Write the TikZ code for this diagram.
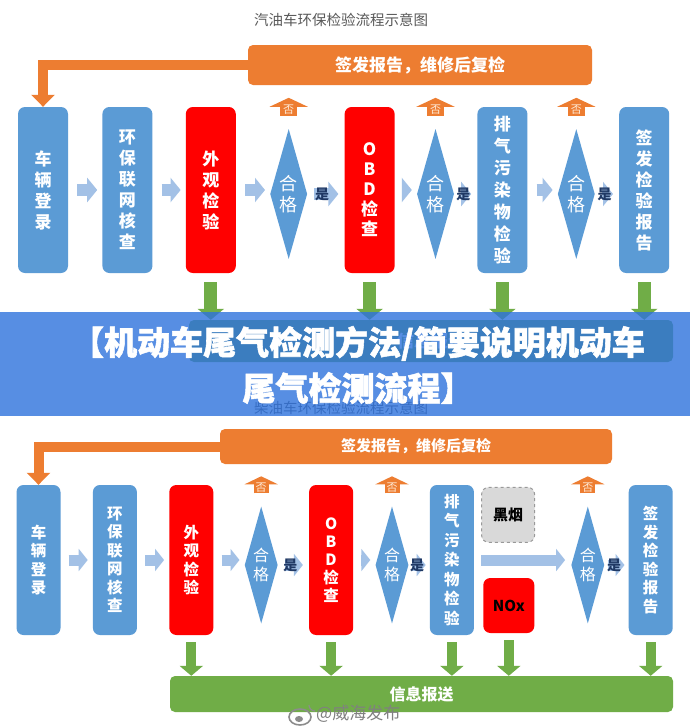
\documentclass[tikz,border=0pt]{standalone}
\usepackage{fontspec}
\setmainfont{Noto Sans CJK SC}
\newfontfamily\heavyfont{Noto Sans CJK SC}[BoldFeatures={FakeBold=1.6}]
\usetikzlibrary{shapes.geometric,arrows.meta,positioning}

\definecolor{offblue}{RGB}{91,155,213}
\definecolor{offorange}{RGB}{237,125,49}
\definecolor{offgreen}{RGB}{112,173,71}
\definecolor{flowblue}{RGB}{163,193,230}
\definecolor{bannerblue}{RGB}{46,114,221}
\definecolor{yesnavy}{RGB}{31,56,100}
\definecolor{smokegray}{RGB}{217,217,217}

\begin{document}
\begin{tikzpicture}[
    x=1pt, y=-1pt,
    every node/.style={inner sep=0pt},
    stage/.style={
        rectangle, rounded corners=7pt, fill=offblue,
        text=white, align=center,
        font=\bfseries\fontsize{17}{21}\selectfont,
        minimum width=50pt, minimum height=166pt
    },
    stagesm/.style={stage, minimum width=44pt, minimum height=150pt,
        font=\bfseries\fontsize{15.5}{18.5}\selectfont},
    judge/.style={
        diamond, fill=offblue, text=white, align=center,
        font=\fontsize{18}{21}\selectfont, shape aspect=0.285,
        minimum width=37pt, minimum height=130pt
    },
    judgesm/.style={judge, minimum width=33pt, minimum height=117pt,
        font=\fontsize{16}{19}\selectfont},
    bar/.style={
        rectangle, rounded corners=5pt, text=white,
        font=\bfseries\fontsize{17}{20}\selectfont
    },
    title/.style={text=black!65, font=\fontsize{14.5}{16}\selectfont},
    flow/.style={flowblue, line width=12pt,
        -{Triangle[length=10pt,width=24pt]}, shorten <=9pt, shorten >=5pt},
    flowsm/.style={flow, line width=11pt,
        -{Triangle[length=9pt,width=22pt]}, shorten <=8pt, shorten >=5pt},
    yes/.style={flow, shorten <=7pt, shorten >=6pt},
    yestext/.style={text=yesnavy, font=\bfseries\fontsize{14}{16}\selectfont},
    reject/.style={offorange, line width=17pt,
        -{Triangle[length=9pt,width=38pt]}, shorten <=13pt},
    rejecttext/.style={text=orange!15, font=\fontsize{11}{12}\selectfont},
    report/.style={offgreen, line width=13pt,
        -{Triangle[length=11pt,width=26pt]}, shorten <=9pt},
    ret/.style={offorange, line width=10pt, line join=miter,
        -{Triangle[length=12pt,width=23pt]}}
]
    \useasboundingbox (0,0) rectangle (690,728);
    \fill[white] (0,0) rectangle (690,728);

    % petrol car
    \node[title] (tpetrol) at (341,20) {汽油车环保检验流程示意图};
    \node[bar, fill=offorange, minimum width=344pt, minimum height=40pt] (fix) at (420,65) {签发报告，维修后复检};

    \node[stage] (reg) at (43,190) {车\\辆\\登\\录};
    \node[stage, right=34pt of reg] (net) {环\\保\\联\\网\\核\\查};
    \node[stage, fill=red, right=33pt of net] (look) {外\\观\\检\\验};
    \node[judge, right=34pt of look, yshift=-4pt] (ok1) {合\\格};
    \node[stage, fill=red, right=37pt of ok1, yshift=4pt,
          font=\bfseries\fontsize{17}{20}\selectfont] (obd) {O\\B\\D\\检\\查};
    \node[judge, right=22pt of obd, yshift=-4pt] (ok2) {合\\格};
    \node[stage, right=23pt of ok2, yshift=4pt,
          font=\bfseries\fontsize{17}{22}\selectfont] (exh) {排\\气\\污\\染\\物\\检\\验};
    \node[judge, right=30pt of exh, yshift=-4pt] (ok3) {合\\格};
    \node[stage, right=24pt of ok3, yshift=4pt] (iss) {签\\发\\检\\验\\报\\告};

    \node[bar, fill=offgreen, minimum width=484pt, minimum height=42pt] (info) at (431,341) {信息报送};

    \draw[ret] (fix.west) -| (reg.north);
    \draw[flow] (reg.east) -- (net.west);
    \draw[flow] (net.east) -- (look.west);
    \draw[flow] (look.east) -- (look.east -| ok1.west);
    \draw[flow] (obd.east) -- (obd.east -| ok2.west);
    \draw[flow] (exh.east) -- (exh.east -| ok3.west);
    \draw[yes] (ok1.east) -- (ok1.east -| obd.west) node[yestext, pos=0.4] {是};
    \draw[yes] (ok2.east) -- (ok2.east -| exh.west) node[yestext, pos=0.4] {是};
    \draw[yes] (ok3.east) -- (ok3.east -| iss.west) node[yestext, pos=0.4] {是};
    \foreach \j in {ok1,ok2,ok3}
        \draw[reject] (\j.north) -- ++(0,-31) node[rejecttext, pos=0.62] {否};
    \foreach \s in {look,obd,exh,iss}
        \draw[report] (\s.south) -- (\s.south |- info.north);

    % diesel car title, then the banner over it
    \node[title] (tdiesel) at (341,408) {柴油车环保检验流程示意图};
    \fill[bannerblue, fill opacity=0.8] (0,312) rectangle (690,416);
    \node[text=white, align=center, font=\heavyfont\bfseries\fontsize{33}{46}\selectfont] (head) at (358,365)
        {【机动车尾气检测方法/简要说明机动车\\尾气检测流程】};

    % diesel car
    \node[bar, fill=offorange, minimum width=392pt, minimum height=35pt,
          font=\bfseries\fontsize{15}{18}\selectfont] (fix2) at (416,446.5) {签发报告，维修后复检};

    \node[stagesm] (reg2) at (38.5,560) {车\\辆\\登\\录};
    \node[stagesm, right=32pt of reg2] (net2) {环\\保\\联\\网\\核\\查};
    \node[stagesm, fill=red, right=32pt of net2] (look2) {外\\观\\检\\验};
    \node[judgesm, right=31pt of look2, yshift=-5pt] (ok4) {合\\格};
    \node[stagesm, fill=red, right=31pt of ok4, yshift=5pt,
          font=\bfseries\fontsize{15.5}{18}\selectfont] (obd2) {O\\B\\D\\检\\查};
    \node[judgesm, right=22pt of obd2, yshift=-5pt] (ok5) {合\\格};
    \node[stagesm, right=21pt of ok5, yshift=5pt,
          font=\bfseries\fontsize{15.5}{19.5}\selectfont] (exh2) {排\\气\\污\\染\\物\\检\\验};
    \node[judgesm, right=97pt of exh2, yshift=-5pt] (ok6) {合\\格};
    \node[stagesm, right=24pt of ok6, yshift=5pt] (iss2) {签\\发\\检\\验\\报\\告};

    \node[rectangle, rounded corners=7pt, fill=smokegray, draw=black!40, dashed, line width=1pt,
          minimum width=53pt, minimum height=55pt, anchor=north west,
          font=\bfseries\fontsize{15}{18}\selectfont] (smoke) at ([xshift=7pt,yshift=-2pt]exh2.north east) {黑烟};
    \node[rectangle, rounded corners=7pt, fill=red,
          minimum width=51pt, minimum height=55pt, anchor=south west,
          font=\bfseries\fontsize{15}{18}\selectfont] (nox) at ([xshift=9pt,yshift=2pt]exh2.south east) {NOx};

    \node[bar, fill=offgreen, minimum width=503pt, minimum height=36pt,
          font=\bfseries\fontsize{16}{18}\selectfont] (info2) at (421.5,694) {信息报送};

    \draw[ret] (fix2.west) -| (reg2.north);
    \draw[flowsm] (reg2.east) -- (net2.west);
    \draw[flowsm] (net2.east) -- (look2.west);
    \draw[flowsm] (look2.east) -- (look2.east -| ok4.west);
    \draw[flowsm] (obd2.east) -- (obd2.east -| ok5.west);
    \draw[flowsm, shorten <=7pt, shorten >=6pt] (exh2.east) -- (exh2.east -| ok6.west);
    \draw[flowsm, shorten <=7pt, shorten >=6pt] (ok4.east) -- (ok4.east -| obd2.west) node[yestext, pos=0.4] {是};
    \draw[flowsm, shorten <=3pt, shorten >=4pt] (ok5.east) -- (ok5.east -| exh2.west) node[yestext, pos=0.4] {是};
    \draw[flowsm, shorten <=3pt, shorten >=4pt] (ok6.east) -- (ok6.east -| iss2.west) node[yestext, pos=0.4] {是};
    \foreach \j in {ok4,ok5,ok6}
        \draw[reject, line width=15pt, -{Triangle[length=8pt,width=33pt]}] (\j.north) -- ++(0,-30)
            node[rejecttext, pos=0.63] {否};
    \foreach \s in {look2,obd2,exh2,nox,iss2}
        \draw[report, line width=10pt, -{Triangle[length=10pt,width=23pt]}, shorten <=7pt]
            (\s.south) -- (\s.south |- info2.north);

    % watermark
    \draw[black!45, line width=1.6pt] (300,717) ellipse (11pt and 8pt);
    \fill[black!45] (299,719) ellipse (4pt and 3pt);
    \draw[black!45, line width=1.2pt] (309,705) arc[start angle=180, end angle=270, radius=6pt];
    \node[text=black!50, font=\fontsize{17}{19}\selectfont, anchor=west] (mark) at (316,714) {@威海发布};
\end{tikzpicture}
\end{document}
